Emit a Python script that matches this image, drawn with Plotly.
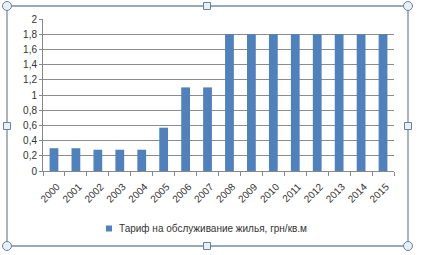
import plotly.graph_objects as go

years = [str(y) for y in range(2000, 2016)]
tariff = [0.3, 0.3, 0.28, 0.28, 0.28, 0.57, 1.1, 1.1, 1.8, 1.8, 1.8, 1.8, 1.8, 1.8, 1.8, 1.8]
series_name = "Тариф на обслуживание жилья, грн/кв.м"
y_ticks = [0, 0.2, 0.4, 0.6, 0.8, 1, 1.2, 1.4, 1.6, 1.8, 2]
y_tick_text = ["0", "0,2", "0,4", "0,6", "0,8", "1", "1,2", "1,4", "1,6", "1,8", "2"]

BAR_COLOR = "#4F81BD"
W, H = 424, 255
L, R, T, B = 43, 394, 19, 171

def px(x):
    return (x - L) / (R - L)

def py(y):
    return (B - y) / (B - T)

fig = go.Figure()
fig.add_trace(go.Bar(x=years, y=tariff, name=series_name, showlegend=False,
                     marker=dict(color=BAR_COLOR, line=dict(width=0))))

frame = "#7a8da3"
shapes = [dict(type="rect", xref="paper", yref="paper",
               x0=px(7), x1=px(408), y0=py(246), y1=py(6),
               line=dict(color=frame, width=1.3), fillcolor="rgba(0,0,0,0)", layer="above")]
for cx, cy in [(7, 6), (408, 6), (7, 246), (408, 246)]:
    shapes.append(dict(type="circle", xref="paper", yref="paper",
                       x0=px(cx - 4.5), x1=px(cx + 4.5), y0=py(cy + 4.5), y1=py(cy - 4.5),
                       line=dict(color="#6f8196", width=1), fillcolor="#e6f0f8", layer="above"))
for cx, cy in [(207, 6), (207, 246), (7, 126), (408, 126)]:
    shapes.append(dict(type="rect", xref="paper", yref="paper",
                       x0=px(cx - 3.5), x1=px(cx + 3.5), y0=py(cy + 3.5), y1=py(cy - 3.5),
                       line=dict(color="#6f8196", width=1), fillcolor="#e6f0f8", layer="above"))
# legend key
shapes.append(dict(type="rect", xref="paper", yref="paper",
                   x0=px(106), x1=px(112), y0=py(231.5), y1=py(225.5),
                   line=dict(width=0), fillcolor=BAR_COLOR, layer="above"))

annotations = [dict(text=series_name, xref="paper", yref="paper",
                    x=px(117), y=py(228.5), xanchor="left", yanchor="middle",
                    showarrow=False, font=dict(size=10, color="#333333"))]

fig.update_layout(
    width=W, height=H,
    margin=dict(l=L, r=W - R, t=T, b=H - B),
    paper_bgcolor="white", plot_bgcolor="white",
    bargap=0.6,
    font=dict(family="Liberation Sans, Arial, sans-serif", size=10, color="#333333"),
    showlegend=False,
    shapes=shapes,
    annotations=annotations,
    xaxis=dict(type="category", tickangle=-45, showgrid=False, showline=True,
               linecolor="#888888", linewidth=1, ticks="outside", ticklen=4,
               tickcolor="#888888", tickson="boundaries", tickfont=dict(size=10),
               ticklabelstandoff=5, ticklabelshift=3),
    yaxis=dict(range=[0, 2], tickvals=y_ticks, ticktext=y_tick_text,
               showgrid=True, gridcolor="#8c8c8c", gridwidth=1, showline=True,
               linecolor="#888888", ticks="outside", ticklen=3, tickcolor="#888888",
               zeroline=False, tickfont=dict(size=10)),
)

fig.write_html("out.html")
